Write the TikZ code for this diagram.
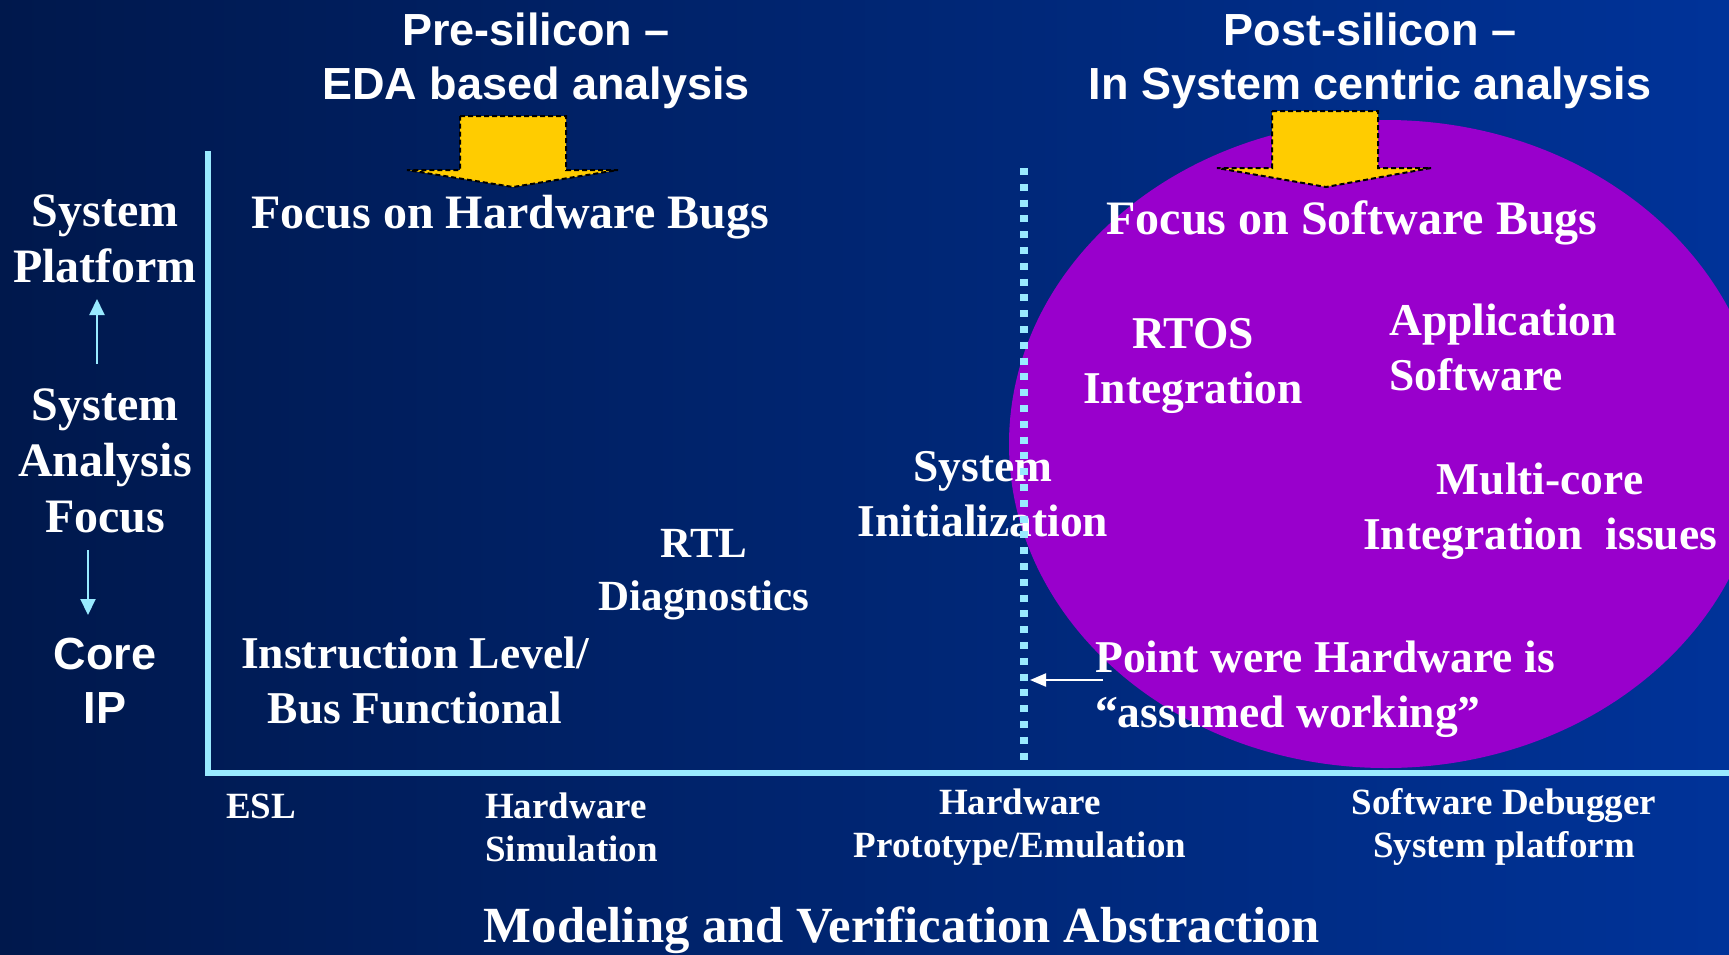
\documentclass[tikz,border=0pt]{standalone}
\usepackage{fontspec}
\setmainfont{Liberation Serif}
\newfontfamily\sansb{Liberation Sans}
\usetikzlibrary{arrows.meta}
\definecolor{navyL}{RGB}{0,24,76}
\definecolor{navyR}{RGB}{0,51,153}
\definecolor{axiscyan}{RGB}{153,234,255}
\definecolor{blobpurple}{RGB}{153,0,204}
\definecolor{arrowyellow}{RGB}{255,204,0}
\begin{document}
\begin{tikzpicture}[x=1pt,y=-1pt,
  lbl/.style={text=white, align=center, inner sep=0pt, font=\fontsize{48}{56}\selectfont\bfseries},
  inlbl/.style={lbl, font=\fontsize{45.5}{55}\selectfont\bfseries},
  inlbll/.style={inlbl, align=left},
  sanslbl/.style={text=white, align=center, inner sep=0pt, font=\sansb\fontsize{45}{54}\selectfont\bfseries},
  axlbl/.style={text=white, align=center, inner sep=0pt, font=\fontsize{37}{43}\selectfont\bfseries},
  axlbll/.style={axlbl, align=left},
  bigarrow/.style={fill=arrowyellow, draw=black, line width=2pt, dash pattern=on 5pt off 3pt},
  axisline/.style={draw=axiscyan, line width=5.5pt},
  dotline/.style={draw=axiscyan, line width=8pt, dash pattern=on 7pt off 8.8pt},
  smallarrow/.style={draw=axiscyan, line width=2pt, -{Triangle[width=15pt,length=16pt]}},
  ptarrow/.style={draw=white, line width=2pt, -{Triangle[width=13pt,length=16pt]}}
]
\useasboundingbox (0,0) rectangle (1729,954);
\shade[left color=navyL, right color=navyR, shading angle=90] (0,0) rectangle (1729,954);
\begin{scope}
\clip (0,0) rectangle (1729,954);
\fill[blobpurple] (1386,444) ellipse [x radius=377pt, y radius=324pt];
\end{scope}

% titles
\node[sanslbl] (pre) at (536,61) {Pre-silicon –\\EDA based analysis};
\node[sanslbl] (post) at (1370,61) {Post-silicon –\\In System centric analysis};

% yellow arrows
\draw[bigarrow] (460,116) -- (566,116) -- (566,170) -- (618,170) -- (513,187) -- (407,170) -- (460,170) -- cycle;
\draw[bigarrow] (1272,111) -- (1378,111) -- (1378,168) -- (1431,168) -- (1326,187) -- (1217,168) -- (1272,168) -- cycle;

% left column
\node[lbl] (sysplat) at (105,239) {System\\Platform};
\node[lbl] (sysfocus) at (105,461) {System\\Analysis\\Focus};
\node[sanslbl] (coreip) at (105,681) {Core\\IP};
\coordinate (upS) at (97,364);
\coordinate (upE) at (97,299);
\coordinate (dnS) at (88,550);
\coordinate (dnE) at (88,615);
\draw[smallarrow] (upS) -- (upE);
\draw[smallarrow] (dnS) -- (dnE);

% axes
\coordinate (ytop) at (208,151);
\coordinate (orig) at (208,776);
\coordinate (xo) at (205.5,773);
\coordinate (xend) at (1729,773);
\draw[axisline] (ytop) -- (orig);
\draw[axisline, line width=6pt] (xo) -- (xend);

% plot labels
\node[lbl] (hwbugs) at (510,217) {Focus on Hardware Bugs};
\node[lbl] (swbugs) at (1352,223) {Focus on Software Bugs};
\node[inlbl] (rtos) at (1193,366) {RTOS\\Integration};
\node[inlbll, anchor=west] (app) at (1389,347) {Application\\Software};
\node[inlbl] (multi) at (1540,511) {Multi-core\\Integration\ \ issues};
\node[inlbl] (sysinit) at (983,494) {System\\Initialization};
\node[inlbl, font=\fontsize{43}{53}\selectfont\bfseries] (rtl) at (704,575) {RTL\\Diagnostics};
\node[inlbl] (instr) at (415,680) {Instruction Level/\\Bus Functional};
\node[inlbll, anchor=west] (point) at (1095,689) {Point were Hardware is\\“assumed working”};

% dotted boundary
\coordinate (dtop) at (1024,168);
\coordinate (dbot) at (1024,767);
\draw[dotline] (dtop) -- (dbot);
\coordinate (ptS) at (1103,680);
\coordinate (ptE) at (1030,680);
\draw[ptarrow] (ptS) -- (ptE);

% axis labels
\node[axlbll, anchor=west] (esl) at (226,806) {ESL};
\node[axlbll, anchor=west] (hwsim) at (485,827) {Hardware\\Simulation};
\node[axlbl] (hwproto) at (1020,827) {Hardware\\Prototype/Emulation};
\node[axlbl] (swdbg) at (1504,827) {Software Debugger\\System platform};
\node[lbl, font=\fontsize{50.7}{58}\selectfont\bfseries] (model) at (902,930.5) {Modeling and Verification Abstraction};
\end{tikzpicture}
\end{document}
